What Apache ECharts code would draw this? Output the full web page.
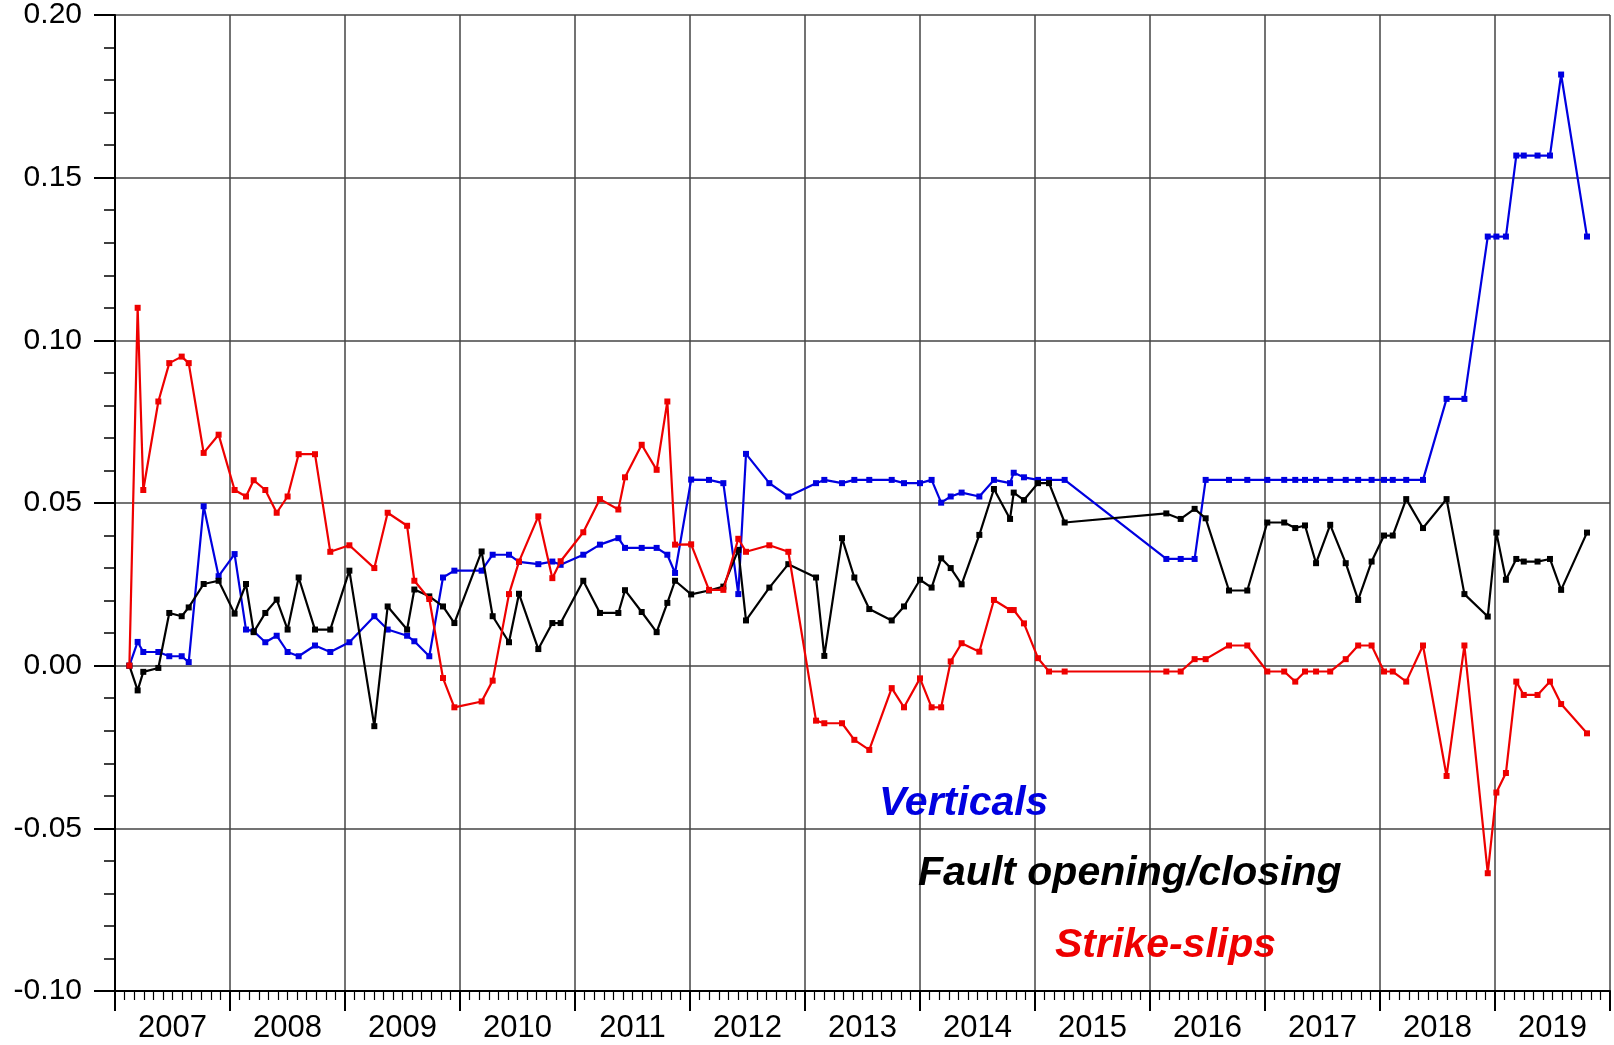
<!DOCTYPE html>
<html>
<head>
<meta charset="utf-8">
<script src="https://cdn.jsdelivr.net/npm/echarts@6/dist/echarts.min.js"></script>
<style>
html,body{margin:0;padding:0;background:#fff;}
#chart{width:1614px;height:1045px;}
</style>
</head>
<body>
<div id="chart"></div>
<script>
// Observation times (decimal years)
var times = [
  2007.125, 2007.197, 2007.246, 2007.377, 2007.472, 2007.580, 2007.641, 2007.771, 2007.901,
  2008.040, 2008.139, 2008.206, 2008.307, 2008.406, 2008.501, 2008.597, 2008.739, 2008.872,
  2009.038, 2009.255, 2009.371, 2009.540, 2009.603, 2009.733, 2009.852, 2009.951,
  2010.188, 2010.284, 2010.426, 2010.513, 2010.681, 2010.803, 2010.875,
  2011.072, 2011.217, 2011.377, 2011.435, 2011.580, 2011.710, 2011.803, 2011.870,
  2012.010, 2012.165, 2012.290, 2012.420, 2012.487, 2012.690, 2012.855,
  2013.096, 2013.168, 2013.322, 2013.429, 2013.559, 2013.754, 2013.861,
  2014.000, 2014.101, 2014.184, 2014.267, 2014.362, 2014.516, 2014.643, 2014.783, 2014.815, 2014.904,
  2015.026, 2015.122, 2015.258,
  2016.142, 2016.267, 2016.388, 2016.484, 2016.687, 2016.846,
  2017.020, 2017.167, 2017.263, 2017.348, 2017.444, 2017.567, 2017.702, 2017.810, 2017.927,
  2018.035, 2018.111, 2018.228, 2018.374, 2018.579, 2018.734, 2018.937,
  2019.012, 2019.095, 2019.185, 2019.250, 2019.370, 2019.478, 2019.575, 2019.800
];

// Verticals (blue)
var verticals = [
  0.0000, 0.0073, 0.0042, 0.0042, 0.0029, 0.0029, 0.0011, 0.0490, 0.0275,
  0.0343, 0.0111, 0.0106, 0.0072, 0.0092, 0.0042, 0.0029, 0.0062, 0.0042,
  0.0072, 0.0152, 0.0111, 0.0092, 0.0075, 0.0029, 0.0271, 0.0292,
  0.0292, 0.0341, 0.0341, 0.0319, 0.0312, 0.0320, 0.0310,
  0.0341, 0.0372, 0.0392, 0.0362, 0.0362, 0.0362, 0.0341, 0.0285,
  0.0572, 0.0571, 0.0561, 0.0220, 0.0651, 0.0561, 0.0520,
  0.0561, 0.0571, 0.0561, 0.0571, 0.0571, 0.0571, 0.0561,
  0.0561, 0.0571, 0.0501, 0.0520, 0.0532, 0.0520, 0.0571, 0.0561, 0.0593, 0.0579,
  0.0571, 0.0571, 0.0571,
  0.0328, 0.0328, 0.0328, 0.0571, 0.0571, 0.0571,
  0.0571, 0.0571, 0.0571, 0.0571, 0.0571, 0.0571, 0.0571, 0.0571, 0.0571,
  0.0571, 0.0571, 0.0571, 0.0571, 0.0820, 0.0820, 0.1319,
  0.1319, 0.1319, 0.1568, 0.1568, 0.1568, 0.1568, 0.1817, 0.1319
];

// Fault opening/closing (black)
var opening = [
  0.0000, -0.0076, -0.0019, -0.0007, 0.0162, 0.0152, 0.0179, 0.0251, 0.0261,
  0.0160, 0.0251, 0.0103, 0.0162, 0.0203, 0.0111, 0.0271, 0.0111, 0.0111,
  0.0292, -0.0186, 0.0182, 0.0111, 0.0234, 0.0213, 0.0182, 0.0131,
  0.0351, 0.0152, 0.0072, 0.0221, 0.0051, 0.0131, 0.0131,
  0.0261, 0.0162, 0.0162, 0.0232, 0.0165, 0.0103, 0.0193, 0.0261,
  0.0219, 0.0231, 0.0243, 0.0356, 0.0139, 0.0240, 0.0312,
  0.0271, 0.0030, 0.0392, 0.0271, 0.0174, 0.0139, 0.0182,
  0.0264, 0.0240, 0.0330, 0.0300, 0.0250, 0.0402, 0.0543, 0.0451, 0.0532, 0.0509,
  0.0561, 0.0561, 0.0440,
  0.0468, 0.0451, 0.0482, 0.0453, 0.0231, 0.0231,
  0.0440, 0.0440, 0.0423, 0.0431, 0.0315, 0.0433, 0.0315, 0.0202, 0.0320,
  0.0400, 0.0400, 0.0512, 0.0423, 0.0512, 0.0220, 0.0151,
  0.0409, 0.0264, 0.0328, 0.0320, 0.0320, 0.0328, 0.0233, 0.0409
];

// Strike-slips (red)
var strike = [
  0.0000, 0.1100, 0.0540, 0.0812, 0.0930, 0.0950, 0.0930, 0.0654, 0.0710,
  0.0540, 0.0520, 0.0570, 0.0540, 0.0470, 0.0520, 0.0650, 0.0650, 0.0350,
  0.0370, 0.0300, 0.0470, 0.0430, 0.0261, 0.0205, -0.0038, -0.0128,
  -0.0110, -0.0046, 0.0220, 0.0320, 0.0459, 0.0269, 0.0321,
  0.0410, 0.0512, 0.0480, 0.0579, 0.0679, 0.0602, 0.0812, 0.0372,
  0.0373, 0.0233, 0.0233, 0.0390, 0.0350, 0.0370, 0.0350,
  -0.0169, -0.0177, -0.0177, -0.0228, -0.0259, -0.0069, -0.0128,
  -0.0039, -0.0128, -0.0128, 0.0013, 0.0069, 0.0043, 0.0202, 0.0171, 0.0171, 0.0130,
  0.0023, -0.0018, -0.0018,
  -0.0018, -0.0018, 0.0020, 0.0020, 0.0062, 0.0062,
  -0.0018, -0.0018, -0.0049, -0.0018, -0.0018, -0.0018, 0.0020, 0.0062, 0.0062,
  -0.0018, -0.0018, -0.0049, 0.0062, -0.0339, 0.0062, -0.0638,
  -0.0390, -0.0330, -0.0049, -0.0090, -0.0090, -0.0049, -0.0118, -0.0208
];

var yearLabels = ['2007','2008','2009','2010','2011','2012','2013','2014','2015','2016','2017','2018','2019'];

function pairs(vals) {
  var out = [];
  for (var i = 0; i < times.length; i++) {
    if (vals[i] !== null && vals[i] !== undefined) out.push([times[i], vals[i]]);
  }
  return out;
}

var FONT = '"Liberation Sans", Arial, sans-serif';
var GRID_COLOR = '#444444';

var chart = echarts.init(document.getElementById('chart'), null, {renderer: 'canvas'});

function lineSeries(name, color, vals, z) {
  return {
    name: name,
    type: 'line',
    xAxisIndex: 0,
    yAxisIndex: 0,
    data: pairs(vals),
    symbol: 'rect',
    symbolSize: 6,
    showSymbol: true,
    z: z,
    lineStyle: {color: color, width: 2.2},
    itemStyle: {color: color},
    emphasis: {disabled: true}
  };
}

var option = {
  animation: false,
  backgroundColor: '#ffffff',
  grid: {left: 115, right: 4, top: 15, bottom: 54, containLabel: false},
  xAxis: [
    {
      type: 'value',
      min: 2007, max: 2020, interval: 1,
      axisLine: {show: true, onZero: false, lineStyle: {color: '#000', width: 2}},
      axisTick: {show: true, inside: false, length: 20, lineStyle: {color: '#000', width: 2}},
      minorTick: {show: true, splitNumber: 12, length: 9, lineStyle: {color: '#000', width: 1.2}},
      axisLabel: {show: false},
      splitLine: {show: true, lineStyle: {color: GRID_COLOR, width: 1.5}}
    },
    {
      type: 'category',
      data: yearLabels,
      position: 'bottom',
      boundaryGap: true,
      axisLine: {show: false},
      axisTick: {show: false},
      splitLine: {show: false},
      axisLabel: {show: true, margin: 22, fontSize: 31, color: '#000', fontFamily: FONT, interval: 0}
    }
  ],
  yAxis: {
    type: 'value',
    min: -0.1, max: 0.2, interval: 0.05,
    axisLine: {show: true, onZero: false, lineStyle: {color: '#000', width: 2}},
    axisTick: {show: true, inside: false, length: 21, lineStyle: {color: '#000', width: 2}},
    minorTick: {show: true, splitNumber: 5, length: 11, lineStyle: {color: '#000', width: 1.5}},
    axisLabel: {
      margin: 33, fontSize: 30, color: '#000', fontFamily: FONT,
      formatter: function (v) { return v.toFixed(2); }
    },
    splitLine: {show: true, lineStyle: {color: GRID_COLOR, width: 1.5}}
  },
  series: [
    lineSeries('Verticals', '#0000e0', verticals, 3),
    lineSeries('Fault opening/closing', '#000000', opening, 4),
    lineSeries('Strike-slips', '#ee0000', strike, 5)
  ],
  graphic: [
    {type: 'text', left: 879, top: 783, z: 10,
     style: {text: 'Verticals', fill: '#0000e0', font: 'italic bold 41px ' + FONT}},
    {type: 'text', left: 918, top: 853, z: 10,
     style: {text: 'Fault opening/closing', fill: '#000000', font: 'italic bold 41px ' + FONT}},
    {type: 'text', left: 1055, top: 925, z: 10,
     style: {text: 'Strike-slips', fill: '#ee0000', font: 'italic bold 41px ' + FONT}}
  ]
};

chart.setOption(option);
</script>
</body>
</html>
